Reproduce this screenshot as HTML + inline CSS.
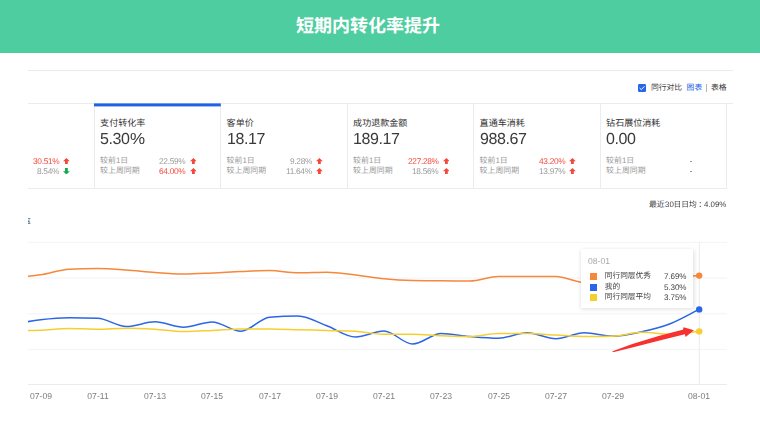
<!DOCTYPE html>
<html lang="zh-CN">
<head>
<meta charset="utf-8">
<title>短期内转化率提升</title>
<style>
html,body{margin:0;padding:0;background:#fff}
body{width:760px;height:430px;position:relative;overflow:hidden;font-family:"Liberation Sans","Noto Sans CJK SC",sans-serif;text-rendering:geometricPrecision}
.hdr{position:absolute;left:0;top:0;width:760px;height:53px;background:#4ecda0}
.zh{position:absolute;display:block;overflow:visible;white-space:nowrap}
.zh i{position:absolute;left:0;top:0;font-style:normal;line-height:1;white-space:nowrap;font-family:"Liberation Sans","Noto Sans CJK SC",sans-serif}
.tx{position:absolute;display:block;white-space:nowrap;will-change:transform}
.hl{position:absolute;height:1px;background:#ebecef}
.vl{position:absolute;width:1px;background:#ebecef}
.cb{position:absolute;left:638px;top:84px;width:8px;height:8px;border-radius:1.3px;background:#2667e8}
.cb svg{display:block}
.ar{position:absolute;display:block}
.chart{position:absolute;left:0;top:0;display:block}
.tip{position:absolute;left:581.3px;top:249.4px;width:111.6px;height:58.2px;background:#fff;box-shadow:0.5px 1px 4px rgba(0,0,0,.14);border-radius:1px}
</style>
</head>
<body>
<div class="hdr"></div>
<span class="zh" style="left:296.00px;top:17.00px;width:144.00px;height:18px;color:#fff;font-size:18px;font-weight:bold;"><i>短期内转化率提升</i></span>
<div class="hl" style="left:28px;top:70px;width:705px"></div>
<div class="cb"><svg viewBox="0 0 8 8" width="8" height="8"><path d="M1.6 4.0 L3.3 5.6 L6.5 2.3" fill="none" stroke="#fff" stroke-width="0.95"/></svg></div>
<span class="zh" style="left:650.90px;top:83.90px;width:31.20px;height:7.8px;color:#444;font-size:7.8px;"><i>同行对比</i></span>
<span class="zh" style="left:686.60px;top:83.90px;width:15.60px;height:7.8px;color:#2062e6;font-size:7.8px;"><i>图表</i></span>
<div style="position:absolute;left:706.4px;top:84px;width:0.8px;height:8px;background:#b5b5b5"></div>
<span class="zh" style="left:710.90px;top:83.90px;width:15.60px;height:7.8px;color:#333;font-size:7.8px;"><i>表格</i></span>
<div class="hl" style="left:28px;top:103px;width:705px"></div>
<div class="hl" style="left:28px;top:188px;width:699px"></div>
<div class="vl" style="left:93.80px;top:103px;height:85px"></div>
<div class="vl" style="left:220.30px;top:103px;height:85px"></div>
<div class="vl" style="left:346.80px;top:103px;height:85px"></div>
<div class="vl" style="left:473.30px;top:103px;height:85px"></div>
<div class="vl" style="left:599.80px;top:103px;height:85px"></div>
<div class="vl" style="left:726.30px;top:103px;height:85px"></div>
<svg class="chart" viewBox="0 0 760 430" width="760" height="430"><rect x="94.00" y="103.4" width="126.8" height="3" fill="#2062e6"/></svg>
<span class="tx" style="right:700.80px;top:156.68px;font-size:8.3px;line-height:8.3px;color:#f4483a;letter-spacing:-0.3px">30.51%</span>
<svg class="ar" style="left:63.10px;top:157.55px" viewBox="0 0 6.8 6.5" width="6.8" height="6.5"><path d="M3.4 0 L6.8 3.2 L4.8 3.2 L4.8 6.5 L2 6.5 L2 3.2 L0 3.2 Z" fill="#f4483a"/></svg>
<span class="tx" style="right:700.80px;top:166.93px;font-size:8.3px;line-height:8.3px;color:#999;letter-spacing:-0.3px">8.54%</span>
<svg class="ar" style="left:63.10px;top:167.80px" viewBox="0 0 6.8 6.5" width="6.8" height="6.5"><path d="M3.4 0 L6.8 3.2 L4.8 3.2 L4.8 6.5 L2 6.5 L2 3.2 L0 3.2 Z" fill="#0fab4d" transform="rotate(180 3.4 3.25)"/></svg>
<span class="zh" style="left:100.10px;top:118.88px;width:45.25px;height:9.05px;color:#333;font-size:9.05px;"><i>支付转化率</i></span>
<span class="tx" style="left:100.10px;top:131.86px;font-size:16px;line-height:16px;color:#3a3a3a;"><span style="letter-spacing:-0.42px">5.30</span><span style="display:inline-block;transform:scaleX(1.06);transform-origin:0 50%;margin-left:0.3px">%</span></span>
<span class="zh" style="left:100.10px;top:156.65px;width:28.08px;height:7.9px;color:#999;font-size:7.9px;"><i>较前1日</i></span>
<span class="zh" style="left:100.10px;top:167.05px;width:39.50px;height:7.9px;color:#999;font-size:7.9px;"><i>较上周同期</i></span>
<span class="tx" style="right:574.40px;top:156.68px;font-size:8.3px;line-height:8.3px;color:#999;letter-spacing:-0.3px">22.59%</span>
<svg class="ar" style="left:189.70px;top:157.55px" viewBox="0 0 6.8 6.5" width="6.8" height="6.5"><path d="M3.4 0 L6.8 3.2 L4.8 3.2 L4.8 6.5 L2 6.5 L2 3.2 L0 3.2 Z" fill="#f4483a"/></svg>
<span class="tx" style="right:574.40px;top:166.93px;font-size:8.3px;line-height:8.3px;color:#f4483a;letter-spacing:-0.3px">64.00%</span>
<svg class="ar" style="left:189.70px;top:167.80px" viewBox="0 0 6.8 6.5" width="6.8" height="6.5"><path d="M3.4 0 L6.8 3.2 L4.8 3.2 L4.8 6.5 L2 6.5 L2 3.2 L0 3.2 Z" fill="#f4483a"/></svg>
<span class="zh" style="left:226.60px;top:118.88px;width:27.15px;height:9.05px;color:#333;font-size:9.05px;"><i>客单价</i></span>
<span class="tx" style="left:226.60px;top:131.86px;font-size:16px;line-height:16px;color:#3a3a3a;"><span style="letter-spacing:-0.42px">18.17</span></span>
<span class="zh" style="left:226.60px;top:156.65px;width:28.08px;height:7.9px;color:#999;font-size:7.9px;"><i>较前1日</i></span>
<span class="zh" style="left:226.60px;top:167.05px;width:39.50px;height:7.9px;color:#999;font-size:7.9px;"><i>较上周同期</i></span>
<span class="tx" style="right:447.90px;top:156.68px;font-size:8.3px;line-height:8.3px;color:#999;letter-spacing:-0.3px">9.28%</span>
<svg class="ar" style="left:316.20px;top:157.55px" viewBox="0 0 6.8 6.5" width="6.8" height="6.5"><path d="M3.4 0 L6.8 3.2 L4.8 3.2 L4.8 6.5 L2 6.5 L2 3.2 L0 3.2 Z" fill="#f4483a"/></svg>
<span class="tx" style="right:447.90px;top:166.93px;font-size:8.3px;line-height:8.3px;color:#999;letter-spacing:-0.3px">11.64%</span>
<svg class="ar" style="left:316.20px;top:167.80px" viewBox="0 0 6.8 6.5" width="6.8" height="6.5"><path d="M3.4 0 L6.8 3.2 L4.8 3.2 L4.8 6.5 L2 6.5 L2 3.2 L0 3.2 Z" fill="#f4483a"/></svg>
<span class="zh" style="left:353.10px;top:118.88px;width:54.30px;height:9.05px;color:#333;font-size:9.05px;"><i>成功退款金额</i></span>
<span class="tx" style="left:353.10px;top:131.86px;font-size:16px;line-height:16px;color:#3a3a3a;"><span style="letter-spacing:-0.42px">189.17</span></span>
<span class="zh" style="left:353.10px;top:156.65px;width:28.08px;height:7.9px;color:#999;font-size:7.9px;"><i>较前1日</i></span>
<span class="zh" style="left:353.10px;top:167.05px;width:39.50px;height:7.9px;color:#999;font-size:7.9px;"><i>较上周同期</i></span>
<span class="tx" style="right:321.40px;top:156.68px;font-size:8.3px;line-height:8.3px;color:#f4483a;letter-spacing:-0.3px">227.28%</span>
<svg class="ar" style="left:442.70px;top:157.55px" viewBox="0 0 6.8 6.5" width="6.8" height="6.5"><path d="M3.4 0 L6.8 3.2 L4.8 3.2 L4.8 6.5 L2 6.5 L2 3.2 L0 3.2 Z" fill="#f4483a"/></svg>
<span class="tx" style="right:321.40px;top:166.93px;font-size:8.3px;line-height:8.3px;color:#999;letter-spacing:-0.3px">18.56%</span>
<svg class="ar" style="left:442.70px;top:167.80px" viewBox="0 0 6.8 6.5" width="6.8" height="6.5"><path d="M3.4 0 L6.8 3.2 L4.8 3.2 L4.8 6.5 L2 6.5 L2 3.2 L0 3.2 Z" fill="#f4483a"/></svg>
<span class="zh" style="left:479.60px;top:118.88px;width:45.25px;height:9.05px;color:#333;font-size:9.05px;"><i>直通车消耗</i></span>
<span class="tx" style="left:479.60px;top:131.86px;font-size:16px;line-height:16px;color:#3a3a3a;"><span style="letter-spacing:-0.42px">988.67</span></span>
<span class="zh" style="left:479.60px;top:156.65px;width:28.08px;height:7.9px;color:#999;font-size:7.9px;"><i>较前1日</i></span>
<span class="zh" style="left:479.60px;top:167.05px;width:39.50px;height:7.9px;color:#999;font-size:7.9px;"><i>较上周同期</i></span>
<span class="tx" style="right:194.90px;top:156.68px;font-size:8.3px;line-height:8.3px;color:#f4483a;letter-spacing:-0.3px">43.20%</span>
<svg class="ar" style="left:569.20px;top:157.55px" viewBox="0 0 6.8 6.5" width="6.8" height="6.5"><path d="M3.4 0 L6.8 3.2 L4.8 3.2 L4.8 6.5 L2 6.5 L2 3.2 L0 3.2 Z" fill="#f4483a"/></svg>
<span class="tx" style="right:194.90px;top:166.93px;font-size:8.3px;line-height:8.3px;color:#999;letter-spacing:-0.3px">13.97%</span>
<svg class="ar" style="left:569.20px;top:167.80px" viewBox="0 0 6.8 6.5" width="6.8" height="6.5"><path d="M3.4 0 L6.8 3.2 L4.8 3.2 L4.8 6.5 L2 6.5 L2 3.2 L0 3.2 Z" fill="#f4483a"/></svg>
<span class="zh" style="left:606.10px;top:118.88px;width:54.30px;height:9.05px;color:#333;font-size:9.05px;"><i>钻石展位消耗</i></span>
<span class="tx" style="left:606.10px;top:131.86px;font-size:16px;line-height:16px;color:#3a3a3a;"><span style="letter-spacing:-0.42px">0.00</span></span>
<span class="zh" style="left:606.10px;top:156.65px;width:28.08px;height:7.9px;color:#999;font-size:7.9px;"><i>较前1日</i></span>
<span class="zh" style="left:606.10px;top:167.05px;width:39.50px;height:7.9px;color:#999;font-size:7.9px;"><i>较上周同期</i></span>
<div style="position:absolute;left:689.70px;top:160.55px;width:2.2px;height:0.8px;background:#999"></div>
<div style="position:absolute;left:689.70px;top:170.80px;width:2.2px;height:0.8px;background:#999"></div>
<span class="zh" style="left:648.90px;top:200.75px;width:15.80px;height:7.9px;color:#444;font-size:7.9px;"><i>最近</i></span>
<span class="tx" style="left:664.90px;top:201.03px;font-size:7.9px;line-height:7.9px;color:#444;">30</span>
<span class="zh" style="left:673.50px;top:200.80px;width:23.40px;height:7.8px;color:#444;font-size:7.8px;"><i>日日均</i></span>
<span class="zh" style="left:698.3px;top:200.8px;width:7.8px;height:7.8px;font-size:7.8px;color:#444;"><i>：</i></span>
<span class="tx" style="right:33.50px;top:201.03px;font-size:7.9px;line-height:7.9px;color:#444;">4.09%</span>
<div style="position:absolute;left:28px;top:216px;width:6px;height:12px;overflow:hidden"><span class="zh" style="left:-5.90px;top:1.62px;width:8.75px;height:8.75px;color:#222;font-size:8.75px;"><i>率</i></span></div>
<svg class="chart" viewBox="0 0 760 430" width="760" height="430"><defs><clipPath id="cp"><rect x="28" y="236" width="705" height="150"/></clipPath></defs><rect x="28" y="241.9" width="699" height="1" fill="#f3f4f7"/><rect x="28" y="277.5" width="699" height="1" fill="#f3f4f7"/><rect x="28" y="313.25" width="699" height="1" fill="#f3f4f7"/><rect x="28" y="348.9" width="699" height="1" fill="#f3f4f7"/><rect x="28" y="384" width="699" height="1" fill="#e8ebf1"/><rect x="698.8" y="242.4" width="1" height="142" fill="#e9ebef"/><g clip-path="url(#cp)" fill="none" stroke-width="1.5" stroke-linejoin="round"><path d="M11.9 277.6C21.4 276.9 31.0 276.2 40.5 274.8C50.0 273.4 59.6 269.7 69.1 269.2C78.7 268.7 88.2 268.5 97.8 268.5C107.3 268.5 116.8 269.3 126.4 270.0C135.9 270.7 145.5 271.8 155.0 272.5C164.5 273.2 174.1 274.0 183.6 274.0C193.2 274.0 202.7 273.4 212.2 273.0C221.8 272.6 231.3 271.9 240.9 271.5C250.4 271.1 260.0 270.5 269.5 270.5C279.0 270.5 288.6 272.8 298.1 272.8C307.7 272.8 317.2 272.2 326.8 272.2C336.3 272.2 345.8 273.9 355.4 275.0C364.9 276.1 374.5 277.8 384.0 278.8C393.5 279.7 403.1 280.3 412.6 280.5C422.2 280.7 431.7 280.7 441.2 280.8C450.8 280.8 460.3 281.0 469.9 281.0C479.4 281.0 489.0 276.5 498.5 276.5C508.0 276.5 517.6 276.5 527.1 276.5C536.7 276.5 546.2 276.5 555.8 276.5C565.3 276.5 574.8 282.3 584.4 282.6C593.9 282.9 603.5 283.0 613.0 283.0C622.5 283.0 632.1 281.3 641.6 280.5C651.2 279.7 660.7 278.8 670.2 278.0C679.8 277.2 689.3 276.4 698.9 275.6" stroke="#f6873b"/><path d="M11.9 324.5C21.4 322.7 31.0 320.9 40.5 319.8C50.0 318.7 59.6 317.8 69.1 317.8C78.7 317.8 88.2 317.9 97.8 318.2C107.3 318.6 116.8 326.5 126.4 326.5C135.9 326.5 145.5 321.8 155.0 321.8C164.5 321.8 174.1 327.2 183.6 327.2C193.2 327.2 202.7 322.0 212.2 322.0C221.8 322.0 231.3 331.2 240.9 331.2C250.4 331.2 260.0 318.1 269.5 317.2C279.0 316.4 288.6 316.0 298.1 316.0C307.7 316.0 317.2 322.2 326.8 325.8C336.3 329.2 345.8 337.0 355.4 337.0C364.9 337.0 374.5 331.0 384.0 331.0C393.5 331.0 403.1 344.0 412.6 344.0C422.2 344.0 431.7 333.5 441.2 333.5C450.8 333.5 460.3 335.7 469.9 336.5C479.4 337.3 489.0 338.2 498.5 338.2C508.0 338.2 517.6 332.8 527.1 332.8C536.7 332.8 546.2 338.8 555.8 338.8C565.3 338.8 574.8 332.8 584.4 332.8C593.9 332.8 603.5 336.2 613.0 336.2C622.5 336.2 632.1 333.9 641.6 331.8C651.2 329.7 660.7 327.5 670.2 323.8C679.8 320.0 689.3 314.6 698.9 309.3" stroke="#2b66e6"/><path d="M11.9 331.0C21.4 330.8 31.0 330.6 40.5 330.2C50.0 329.8 59.6 328.5 69.1 328.5C78.7 328.5 88.2 329.2 97.8 329.2C107.3 329.2 116.8 328.2 126.4 328.2C135.9 328.2 145.5 328.7 155.0 329.2C164.5 329.8 174.1 331.5 183.6 331.5C193.2 331.5 202.7 330.9 212.2 330.5C221.8 330.1 231.3 329.0 240.9 329.0C250.4 329.0 260.0 329.0 269.5 329.0C279.0 329.0 288.6 329.5 298.1 329.8C307.7 330.0 317.2 330.2 326.8 330.5C336.3 330.8 345.8 330.8 355.4 331.2C364.9 331.8 374.5 334.2 384.0 334.2C393.5 334.2 403.1 334.2 412.6 334.2C422.2 334.2 431.7 335.4 441.2 335.8C450.8 336.1 460.3 336.5 469.9 336.5C479.4 336.5 489.0 333.5 498.5 333.5C508.0 333.5 517.6 333.5 527.1 333.5C536.7 333.5 546.2 334.5 555.8 335.0C565.3 335.5 574.8 336.5 584.4 336.5C593.9 336.5 603.5 336.4 613.0 336.2C622.5 336.1 632.1 332.3 641.6 332.3C651.2 332.3 660.7 334.2 670.2 334.2C679.8 334.2 689.3 332.8 698.9 331.3" stroke="#f5cf30"/></g><circle cx="699.2" cy="275.6" r="3.2" fill="#f6873b"/><circle cx="699.2" cy="309.4" r="3.2" fill="#2b66e6"/><circle cx="699.2" cy="331.4" r="3.2" fill="#f5cf30"/></svg>
<span class="tx" style="left:-9.50px;width:100px;text-align:center;top:391.59px;font-size:8.6px;line-height:8.6px;color:#7c7c7c;">07-09</span>
<span class="tx" style="left:47.75px;width:100px;text-align:center;top:391.59px;font-size:8.6px;line-height:8.6px;color:#7c7c7c;">07-11</span>
<span class="tx" style="left:105.00px;width:100px;text-align:center;top:391.59px;font-size:8.6px;line-height:8.6px;color:#7c7c7c;">07-13</span>
<span class="tx" style="left:162.25px;width:100px;text-align:center;top:391.59px;font-size:8.6px;line-height:8.6px;color:#7c7c7c;">07-15</span>
<span class="tx" style="left:219.50px;width:100px;text-align:center;top:391.59px;font-size:8.6px;line-height:8.6px;color:#7c7c7c;">07-17</span>
<span class="tx" style="left:276.75px;width:100px;text-align:center;top:391.59px;font-size:8.6px;line-height:8.6px;color:#7c7c7c;">07-19</span>
<span class="tx" style="left:334.00px;width:100px;text-align:center;top:391.59px;font-size:8.6px;line-height:8.6px;color:#7c7c7c;">07-21</span>
<span class="tx" style="left:391.25px;width:100px;text-align:center;top:391.59px;font-size:8.6px;line-height:8.6px;color:#7c7c7c;">07-23</span>
<span class="tx" style="left:448.50px;width:100px;text-align:center;top:391.59px;font-size:8.6px;line-height:8.6px;color:#7c7c7c;">07-25</span>
<span class="tx" style="left:505.75px;width:100px;text-align:center;top:391.59px;font-size:8.6px;line-height:8.6px;color:#7c7c7c;">07-27</span>
<span class="tx" style="left:563.00px;width:100px;text-align:center;top:391.59px;font-size:8.6px;line-height:8.6px;color:#7c7c7c;">07-29</span>
<span class="tx" style="left:649.30px;width:100px;text-align:center;top:391.59px;font-size:8.6px;line-height:8.6px;color:#7c7c7c;">08-01</span>
<div class="tip"></div>
<span class="tx" style="left:587.50px;top:257.49px;font-size:8.6px;line-height:8.6px;color:#a8a8a8;">08-01</span>
<div style="position:absolute;left:590.2px;top:273.40px;width:6.5px;height:6.5px;background:#f6873b"></div>
<span class="zh" style="left:604.80px;top:272.35px;width:46.20px;height:7.7px;color:#444;font-size:7.7px;"><i>同行同层优秀</i></span>
<span class="tx" style="right:73.60px;top:272.93px;font-size:8.1px;line-height:8.1px;color:#444;letter-spacing:-0.1px">7.69%</span>
<div style="position:absolute;left:590.2px;top:284.10px;width:6.5px;height:6.5px;background:#2b66e6"></div>
<span class="zh" style="left:604.80px;top:283.05px;width:15.40px;height:7.7px;color:#444;font-size:7.7px;"><i>我的</i></span>
<span class="tx" style="right:73.60px;top:283.63px;font-size:8.1px;line-height:8.1px;color:#444;letter-spacing:-0.1px">5.30%</span>
<div style="position:absolute;left:590.2px;top:294.10px;width:6.5px;height:6.5px;background:#f5cf30"></div>
<span class="zh" style="left:604.80px;top:293.05px;width:46.20px;height:7.7px;color:#444;font-size:7.7px;"><i>同行同层平均</i></span>
<span class="tx" style="right:73.60px;top:293.63px;font-size:8.1px;line-height:8.1px;color:#444;letter-spacing:-0.1px">3.75%</span>
<svg class="chart" viewBox="0 0 760 430" width="760" height="430"><path d="M611.9 351.4 L632.3 344.0 L658.6 335.9 L679.7 330.5 L682.9 329.8 L683.6 327.3 L693.9 330.2 L685.6 337.1 L684.9 334.3 L658.6 340.8 L632.3 347.4 L614 351.9 Z" fill="#f7312f"/></svg>
</body>
</html>
